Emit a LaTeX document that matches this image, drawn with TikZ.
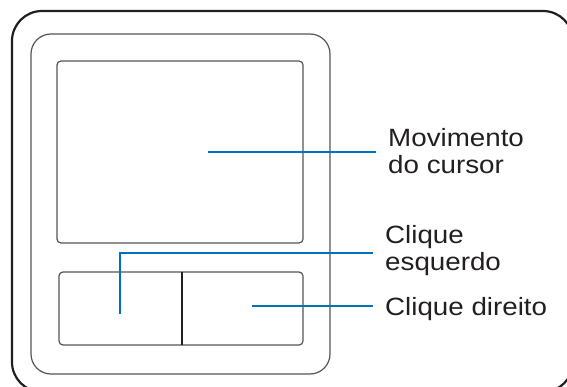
\documentclass[tikz,border=0pt]{standalone}
\usepackage{fontspec}
\setmainfont{Liberation Sans}[FakeStretch=1.11]
\definecolor{frame}{HTML}{231F20}
\definecolor{edge}{HTML}{555555}
\definecolor{lead}{HTML}{0072BC}
\begin{document}
\begin{tikzpicture}[x=1pt,y=-1pt,
  outerframe/.style={draw=frame,line width=2.2pt,rounded corners=30pt},
  bezel/.style={draw=edge,line width=1.2pt,rounded corners=20pt},
  padbox/.style={draw=edge,line width=1.2pt,rounded corners=4pt},
  divider/.style={draw=frame,line width=1.1pt},
  leader/.style={draw=lead,line width=1.2pt,shorten >=12pt},
  label/.style={inner sep=0pt,align=left,anchor=north west,
    font=\fontsize{25}{27}\selectfont,text=frame}]
\useasboundingbox (0,0) rectangle (567,387);
\begin{scope}
\clip (0,0) rectangle (567,387);
\draw[outerframe] (12,11) rectangle (573,392);
\end{scope}
\draw[bezel] (31,34) rectangle (330,374);
\draw[padbox] (57,61) rectangle (303,243);
\draw[padbox] (59,272) rectangle (303,345);
\node (lbtn) at (120,308) {};
\node (rbtn) at (243,308) {};
\coordinate (divtop) at (182,272);
\coordinate (divbot) at (182,345);
\draw[divider] (divtop) -- (divbot);
\node[label] (mov) at (388,128) {Movimento\\do cursor};
\node[label] (esq) at (385,225) {Clique\\esquerdo};
\node[label] (dir) at (385,297) {Clique direito};
\coordinate (m0) at (208,152);
\coordinate (e0) at (120,314);
\coordinate (e1) at (120,253);
\coordinate (d0) at (252,306);
\draw[leader] (m0) -- (m0 -| mov.west);
\draw[leader] (e0) -- (e1) -- (e1 -| esq.west);
\draw[leader] (d0) -- (d0 -| dir.west);
\end{tikzpicture}
\end{document}
